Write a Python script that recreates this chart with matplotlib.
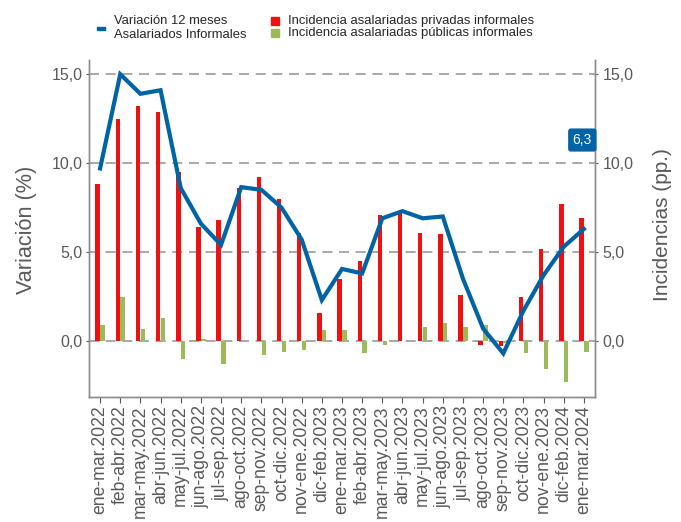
import matplotlib
matplotlib.use("Agg")
import matplotlib.pyplot as plt
import numpy as np
from matplotlib.patches import Rectangle

plt.rcParams["font.family"] = ["Liberation Sans", "DejaVu Sans"]

categories = ["ene-mar.2022", "feb-abr.2022", "mar-may.2022", "abr-jun.2022", "may-jul.2022",
              "jun-ago.2022", "jul-sep.2022", "ago-oct.2022", "sep-nov.2022", "oct-dic.2022",
              "nov-ene.2022", "dic-feb.2023", "ene-mar.2023", "feb-abr.2023", "mar-may.2023",
              "abr-jun.2023", "may-jul.2023", "jun-ago.2023", "jul-sep.2023", "ago-oct.2023",
              "sep-nov.2023", "oct-dic.2023", "nov-ene.2023", "dic-feb.2024", "ene-mar.2024"]
variacion = [9.7, 15.0, 13.9, 14.1, 8.6, 6.6, 5.4, 8.65, 8.5, 7.5, 5.7, 2.3, 4.05, 3.8, 6.9,
             7.3, 6.9, 7.0, 3.5, 0.7, -0.7, 1.7, 3.7, 5.3, 6.3]
privadas = [8.8, 12.5, 13.2, 12.9, 9.5, 6.4, 6.8, 8.6, 9.2, 8.0, 6.1, 1.6, 3.5, 4.5, 7.1,
            7.2, 6.1, 6.0, 2.6, -0.2, -0.3, 2.5, 5.2, 7.7, 6.9]
publicas = [0.9, 2.5, 0.7, 1.3, -1.0, 0.1, -1.3, 0.0, -0.8, -0.6, -0.5, 0.6, 0.6, -0.7, -0.2,
            0.0, 0.8, 1.0, 0.8, 0.9, -0.1, -0.7, -1.6, -2.3, -0.6]
yticks = [0, 5, 10, 15]
ytick_labels = ["0,0", "5,0", "10,0", "15,0"]
legend_labels = ["Variación 12 meses\nAsalariados Informales",
                 "Incidencia asalariadas privadas informales",
                 "Incidencia asalariadas públicas informales"]
last_label = "6,3"

blue = "#0063A6"
red = "#EE1111"
green = "#9BBB59"
gray = "#595959"
W, H = 681, 522

fig = plt.figure(figsize=(6.81, 5.22), dpi=100)
ax = fig.add_axes([89/W, 1-397/H, (595-89)/W, (397-60)/H])
ax2 = ax.twinx()

x = np.arange(len(categories))
ylim = (-3.15, 15.8)

ax2.bar(x - 0.12, privadas, width=0.22, color=red, zorder=2)
ax2.bar(x + 0.12, publicas, width=0.22, color=green, zorder=2)
for v in yticks:
    ax2.axhline(v, color="#999999", lw=1.2, ls=(0, (6, 4)), zorder=1)
ax2.set_ylim(*ylim)

ax.set_zorder(ax2.get_zorder() + 1)
ax.patch.set_visible(False)
ax.plot(x, variacion, color=blue, lw=3.0, solid_joinstyle="miter", zorder=3)
ax.set_ylim(*ylim)
ax.set_xlim(-0.55, len(categories) - 0.45)

for a in (ax, ax2):
    a.set_yticks(yticks)
    a.set_yticklabels(ytick_labels)
    a.tick_params(axis="y", colors=gray, labelsize=11.5, length=2.5, width=0.8)
    a.spines["top"].set_visible(False)
    for s in ("left", "right", "bottom"):
        a.spines[s].set_color("#8c8c8c")
        a.spines[s].set_linewidth(1.0)
ax.tick_params(axis="y", pad=2)
ax2.tick_params(axis="y", pad=3)

ax.set_xticks(x)
ax.set_xticklabels(categories, rotation=90, fontsize=12.7, color=gray)
ax.tick_params(axis="x", colors=gray, length=4, width=0.8, labelcolor=gray, pad=2)
ax.set_ylabel("Variación (%)", fontsize=15.6, color=gray)
ax2.set_ylabel("Incidencias (pp.)", fontsize=15, color=gray)
ax.yaxis.set_label_coords(-0.103, 0.496)
ax2.yaxis.set_label_coords(1.115, 0.513)

ax.text(len(categories) - 0.6, 11.3, last_label, color="white", fontsize=10, ha="right", va="center",
        bbox=dict(boxstyle="round,pad=0.28,rounding_size=0.15", fc=blue, ec=blue), zorder=5)

# legend (manual layout)
txtc = "#262626"
fig.add_artist(Rectangle((97/W, 1-30/H), 8/W, 3/H, color=blue, transform=fig.transFigure))
fig.text(114/W, 1-28/H, legend_labels[0], fontsize=9.4, color=txtc, va="center", ha="left",
         linespacing=1.25)
fig.add_artist(Rectangle((271/W, 1-25/H), 8/W, 8/H, color=red, transform=fig.transFigure))
fig.add_artist(Rectangle((271/W, 1-37/H), 8/W, 8/H, color=green, transform=fig.transFigure))
fig.text(288/W, 1-21/H, legend_labels[1], fontsize=9.4, color=txtc, va="center", ha="left")
fig.text(288/W, 1-33/H, legend_labels[2], fontsize=9.4, color=txtc, va="center", ha="left")

fig.savefig("out.png", dpi=100)
